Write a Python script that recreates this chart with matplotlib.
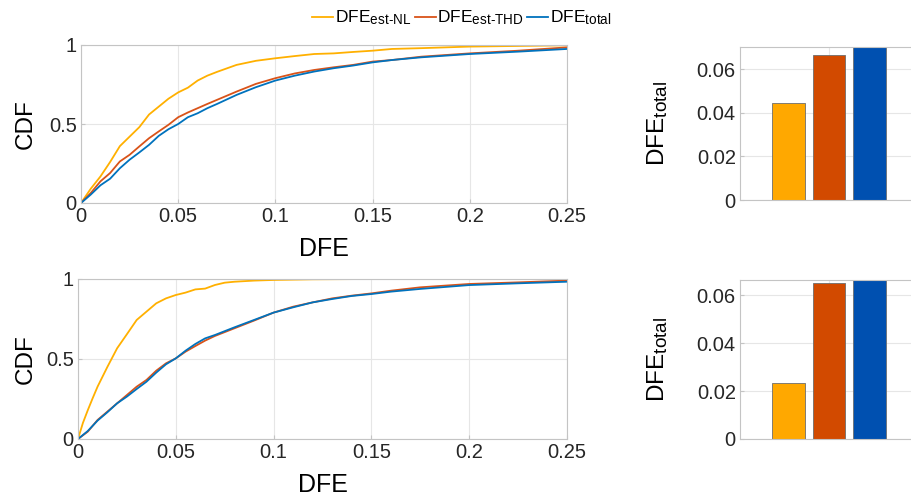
import matplotlib
matplotlib.use("Agg")
import matplotlib.pyplot as plt
import matplotlib._mathtext as mt

plt.rcParams["font.family"] = ["Liberation Sans", "DejaVu Sans"]
plt.rcParams["mathtext.fontset"] = "custom"
plt.rcParams["mathtext.rm"] = "Liberation Sans"
plt.rcParams["mathtext.it"] = "Liberation Sans:italic"
# MATLAB-style subscripts are a little larger than matplotlib's default
if hasattr(mt, "SHRINK_FACTOR"):
    mt.SHRINK_FACTOR = 0.78

# ---- data ----
dfe_top = [0, 0.005, 0.01, 0.015, 0.02, 0.025, 0.03, 0.035, 0.04, 0.045, 0.05,
           0.055, 0.06, 0.065, 0.07, 0.08, 0.09, 0.1, 0.11, 0.12, 0.13, 0.14,
           0.15, 0.16, 0.175, 0.2, 0.225, 0.25]
cdf_nl_top = [0, 0.09, 0.168, 0.26, 0.36, 0.42, 0.48, 0.56, 0.61, 0.66, 0.70,
              0.73, 0.775, 0.806, 0.83, 0.874, 0.90, 0.916, 0.93, 0.943, 0.947,
              0.956, 0.964, 0.975, 0.98, 0.99, 0.994, 0.998]
cdf_thd_top = [0, 0.063, 0.137, 0.19, 0.263, 0.305, 0.358, 0.41, 0.453, 0.495,
               0.543, 0.573, 0.60, 0.627, 0.653, 0.705, 0.754, 0.79, 0.82, 0.842,
               0.859, 0.874, 0.895, 0.905, 0.926, 0.947, 0.964, 0.985]
cdf_tot_top = [0, 0.053, 0.112, 0.154, 0.22, 0.274, 0.32, 0.368, 0.425, 0.467,
               0.50, 0.543, 0.568, 0.60, 0.627, 0.684, 0.733, 0.775, 0.806, 0.832,
               0.853, 0.87, 0.89, 0.905, 0.922, 0.943, 0.958, 0.975]

dfe_nl_bot = [0, 0.0025, 0.005, 0.0075, 0.01, 0.015, 0.02, 0.025, 0.03, 0.035,
              0.04, 0.045, 0.05, 0.055, 0.06, 0.065, 0.07, 0.075, 0.08, 0.09,
              0.1, 0.12, 0.15, 0.25]
cdf_nl_bot = [0, 0.10, 0.18, 0.255, 0.327, 0.45, 0.567, 0.655, 0.744, 0.796,
              0.848, 0.879, 0.90, 0.915, 0.935, 0.94, 0.9625, 0.977, 0.983, 0.99,
              0.994, 0.998, 1.0, 1.0]
dfe_bot = [0, 0.005, 0.01, 0.015, 0.02, 0.025, 0.03, 0.035, 0.04, 0.045, 0.05,
           0.055, 0.06, 0.065, 0.07, 0.08, 0.09, 0.1, 0.11, 0.12, 0.13, 0.14,
           0.15, 0.16, 0.175, 0.2, 0.225, 0.25]
cdf_thd_bot = [0, 0.046, 0.119, 0.171, 0.223, 0.275, 0.327, 0.369, 0.427, 0.473,
               0.504, 0.546, 0.581, 0.615, 0.644, 0.692, 0.74, 0.79, 0.827, 0.854,
               0.879, 0.896, 0.91, 0.927, 0.948, 0.969, 0.979, 0.99]
cdf_tot_bot = [0, 0.05, 0.115, 0.167, 0.223, 0.265, 0.3125, 0.358, 0.415, 0.467,
               0.504, 0.552, 0.594, 0.629, 0.65, 0.698, 0.744, 0.79, 0.823, 0.854,
               0.875, 0.894, 0.906, 0.921, 0.938, 0.962, 0.973, 0.983]

bar_top = [0.0446, 0.0665, 0.0702]
bar_bot = [0.0232, 0.0649, 0.0663]

labels = [r"DFE$_{\mathregular{est\text{-}NL}}$",
          r"DFE$_{\mathregular{est\text{-}THD}}$",
          r"DFE$_{\mathregular{total}}$"]
line_colors = ["#FFB000", "#D95319", "#0072BD"]
bar_colors = ["#FFA800", "#D24A00", "#0050B0"]

W, H = 912, 499
fig = plt.figure(figsize=(W / 100, H / 100), dpi=100)

def pos(l, r, t, b):
    return [l / W, (H - b) / H, (r - l) / W, (b - t) / H]

tick_c = "#262626"
spine_c = "#c4c4c4"
grid_c = "#e6e6e6"

def style(ax):
    for s in ax.spines.values():
        s.set_color(spine_c)
        s.set_linewidth(0.8)
    ax.grid(True, color=grid_c, linewidth=0.8)
    ax.set_axisbelow(True)
    ax.tick_params(direction="in", length=3, color=spine_c, labelcolor=tick_c,
                   labelsize=14.5, pad=3)

ax1 = fig.add_axes(pos(81, 567, 45, 203))
ax2 = fig.add_axes(pos(78, 567, 279, 439))
ax3 = fig.add_axes(pos(740, 918, 47, 200))
ax4 = fig.add_axes(pos(740, 918, 280, 439))

handles = []
for ax, xs, ys in [(ax1, [dfe_top, dfe_top, dfe_top], [cdf_nl_top, cdf_thd_top, cdf_tot_top]),
                   (ax2, [dfe_nl_bot, dfe_bot, dfe_bot], [cdf_nl_bot, cdf_thd_bot, cdf_tot_bot])]:
    style(ax)
    hs = []
    for x, y, c, lab in zip(xs, ys, line_colors, labels):
        h, = ax.plot(x, y, color=c, lw=1.3, label=lab)
        hs.append(h)
    handles = hs
    ax.set_xlim(0, 0.25)
    ax.set_ylim(0, 1)
    ax.set_xticks([0, 0.05, 0.1, 0.15, 0.2, 0.25])
    ax.set_xticklabels(["0", "0.05", "0.1", "0.15", "0.2", "0.25"])
    ax.set_yticks([0, 0.5, 1])
    ax.set_yticklabels(["0", "0.5", "1"])
    ax.set_xlabel("DFE", fontsize=18)
    ax.set_ylabel("CDF", fontsize=17.5)
    ax.xaxis.label.set_va("center")
    ax.yaxis.label.set_va("center")

ax1.xaxis.set_label_coords(0.5, -(249 - 203) / 158)
ax1.yaxis.set_label_coords((26 - 81) / 486, 0.5)
ax2.xaxis.set_label_coords(0.5, -(485 - 439) / 160)
ax2.yaxis.set_label_coords((26 - 78) / 489, 0.5)

offsets = [-0.225, 0, 0.225]
for ax, vals in [(ax3, bar_top), (ax4, bar_bot)]:
    style(ax)
    for off, v, c in zip(offsets, vals, bar_colors):
        ax.bar(1 + off, v, width=0.185, color=c, edgecolor="#6e6e6e", linewidth=0.6)
    ax.set_xlim(0.5, 1.5)
    ax.set_ylim(0, vals[2])
    ax.set_xticks([1])
    ax.set_xticklabels([""])
    ax.set_yticks([0, 0.02, 0.04, 0.06])
    ax.set_yticklabels(["0", "0.02", "0.04", "0.06"])
    ax.set_ylabel(r"DFE$_{\mathregular{total}}$", fontsize=17.5)
    ax.yaxis.label.set_va("center")
    ax.yaxis.set_label_coords((658 - 740) / 178, 0.5)

fig.legend(handles=handles, loc="upper center", bbox_to_anchor=(462 / W, 1.0),
           ncol=3, frameon=False, fontsize=12.5, handlelength=1.2,
           handletextpad=0.1, columnspacing=0.2, borderaxespad=0.1)

fig.savefig("out.png", dpi=100)
